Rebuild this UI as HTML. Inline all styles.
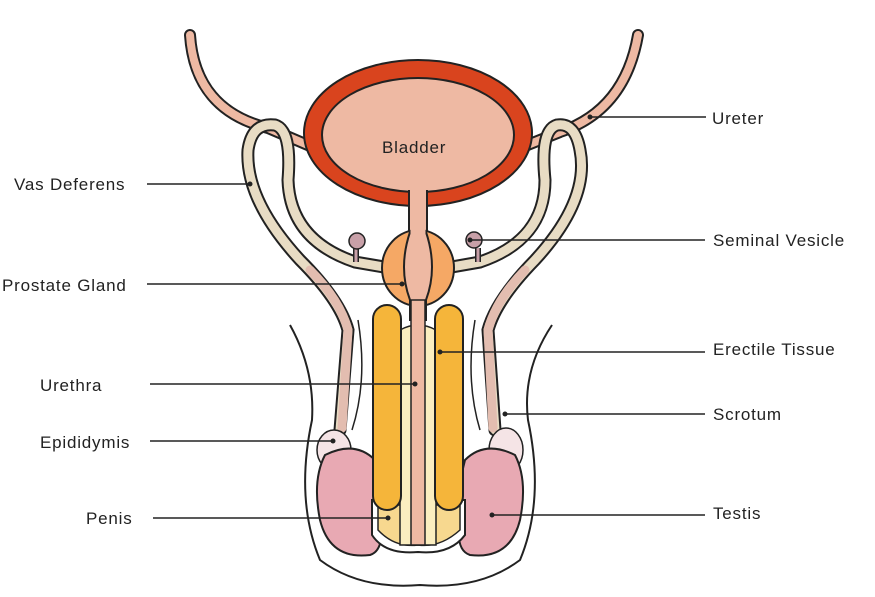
<!DOCTYPE html>
<html><head><meta charset="utf-8"><style>
html,body{margin:0;padding:0;background:#fff;}
svg{display:block;}
text{font-family:"Liberation Sans",sans-serif;font-size:17px;letter-spacing:0.8px;fill:#222;}
</style></head><body>
<svg width="875" height="597" viewBox="0 0 875 597" xmlns="http://www.w3.org/2000/svg">
<g stroke-linecap="round" fill="none">
<path d="M190,35 Q195,110 268,128 L310,146" stroke="#222" stroke-width="12"/>
<path d="M190,35 Q195,110 268,128 L310,146" stroke="#eeb9a3" stroke-width="8"/>
<path d="M638,35 Q625,110 560,132 L525,146" stroke="#222" stroke-width="12"/>
<path d="M638,35 Q625,110 560,132 L525,146" stroke="#eeb9a3" stroke-width="8"/>
<path d="M340,430 L348,330 Q340,300 300,260 Q245,200 248,150 Q252,122 275,125 Q292,130 288,180 Q290,240 355,262 L390,268" stroke="#222" stroke-width="13"/>
<path d="M340,430 L348,330 Q340,300 300,260 Q245,200 248,150 Q252,122 275,125 Q292,130 288,180 Q290,240 355,262 L390,268" stroke="#e8dcc4" stroke-width="9"/>
<path d="M342,428 L348,330 Q340,300 310,270" stroke="#e3bdb0" stroke-width="9"/>
<path d="M495,430 L488,330 Q496,300 535,260 Q590,200 580,150 Q575,122 557,125 Q540,130 545,180 Q545,240 480,262 L446,268" stroke="#222" stroke-width="13"/>
<path d="M495,430 L488,330 Q496,300 535,260 Q590,200 580,150 Q575,122 557,125 Q540,130 545,180 Q545,240 480,262 L446,268" stroke="#e8dcc4" stroke-width="9"/>
<path d="M493,428 L488,330 Q496,300 525,270" stroke="#e3bdb0" stroke-width="9"/>
</g>
<ellipse cx="418" cy="133" rx="114" ry="73" fill="#d9441e" stroke="#222" stroke-width="2"/>
<ellipse cx="418" cy="135" rx="96" ry="57" fill="#eeb9a3" stroke="#222" stroke-width="2"/>
<rect x="409" y="186" width="18" height="60" fill="#eeb9a3"/>
<path d="M409,190 V235 M427,190 V235" stroke="#222" stroke-width="2"/>
<path d="M356,262 V248 M478,262 V248" stroke="#222" stroke-width="6"/>
<path d="M356,262 V248 M478,262 V248" stroke="#c8a0a8" stroke-width="3"/>
<circle cx="357" cy="241" r="8" fill="#c8a0a8" stroke="#222" stroke-width="1.5"/>
<circle cx="474" cy="240" r="8" fill="#c8a0a8" stroke="#222" stroke-width="1.5"/>
<ellipse cx="418" cy="268" rx="36" ry="38" fill="#f5a865" stroke="#222" stroke-width="2"/>
<path d="M410,232 Q398,268 410,300 L410,320 H426 L426,300 Q438,268 426,232 Z" fill="#eeb9a3" stroke="#222" stroke-width="2"/>
<rect x="410.5" y="225" width="15" height="12" fill="#eeb9a3"/>
<path d="M290,325 Q315,370 312,420 Q295,500 320,560 Q360,590 420,585 Q480,590 520,560 Q545,500 528,420 Q522,370 552,325" fill="none" stroke="#222" stroke-width="2"/>
<path d="M358,320 Q368,380 352,430" fill="none" stroke="#222" stroke-width="1.5"/>
<path d="M475,320 Q465,380 480,430" fill="none" stroke="#222" stroke-width="1.5"/>
<ellipse cx="334" cy="450" rx="17" ry="20" fill="#f5e4e6" stroke="#222" stroke-width="1.5"/>
<ellipse cx="506" cy="450" rx="17" ry="22" fill="#f5e4e6" stroke="#222" stroke-width="1.5"/>
<path d="M325,455 Q355,440 375,460 Q385,500 380,520 Q385,550 370,555 Q330,560 320,520 Q312,480 325,455 Z" fill="#e8a9b3" stroke="#222" stroke-width="2"/>
<path d="M515,455 Q485,440 465,460 Q455,500 460,520 Q455,550 470,555 Q510,560 520,520 Q528,480 515,455 Z" fill="#e8a9b3" stroke="#222" stroke-width="2"/>
<path d="M372,500 H465 V535 Q450,555 418,552 Q385,555 372,535 Z" fill="#fff" stroke="#222" stroke-width="2"/>
<path d="M378,505 H460 V530 Q440,548 418,545 Q395,548 378,530 Z" fill="#f7d88f" stroke="#222" stroke-width="1.5"/>
<path d="M400,330 Q418,320 436,330 V545 H400 Z" fill="#fbeec0" stroke="#222" stroke-width="1.5"/>
<rect x="373" y="305" width="28" height="205" rx="14" fill="#f5b53a" stroke="#222" stroke-width="2"/>
<rect x="435" y="305" width="28" height="205" rx="14" fill="#f5b53a" stroke="#222" stroke-width="2"/>
<rect x="411" y="300" width="14" height="245" fill="#eeb9a3" stroke="#222" stroke-width="1.5"/>
<g stroke="#222" stroke-width="1.5">
<line x1="590" y1="117" x2="706" y2="117"/>
<line x1="147" y1="184" x2="250" y2="184"/>
<line x1="147" y1="284" x2="402" y2="284"/>
<line x1="150" y1="384" x2="415" y2="384"/>
<line x1="150" y1="441" x2="333" y2="441"/>
<line x1="153" y1="518" x2="388" y2="518"/>
<line x1="470" y1="240" x2="705" y2="240"/>
<line x1="440" y1="352" x2="705" y2="352"/>
<line x1="505" y1="414" x2="705" y2="414"/>
<line x1="492" y1="515" x2="705" y2="515"/>
</g>
<g fill="#222">
<circle cx="590" cy="117" r="2.5"/><circle cx="250" cy="184" r="2.5"/><circle cx="402" cy="284" r="2.5"/>
<circle cx="415" cy="384" r="2.5"/><circle cx="333" cy="441" r="2.5"/><circle cx="388" cy="518" r="2.5"/>
<circle cx="470" cy="240" r="2.5"/><circle cx="440" cy="352" r="2.5"/><circle cx="505" cy="414" r="2.5"/><circle cx="492" cy="515" r="2.5"/>
</g>
<text x="382" y="153">Bladder</text>
<text x="712" y="124">Ureter</text>
<text x="14" y="190">Vas Deferens</text>
<text x="2" y="291">Prostate Gland</text>
<text x="40" y="391">Urethra</text>
<text x="40" y="448">Epididymis</text>
<text x="86" y="524">Penis</text>
<text x="713" y="246">Seminal Vesicle</text>
<text x="713" y="355">Erectile Tissue</text>
<text x="713" y="420">Scrotum</text>
<text x="713" y="519">Testis</text>
</svg>
</body></html>
